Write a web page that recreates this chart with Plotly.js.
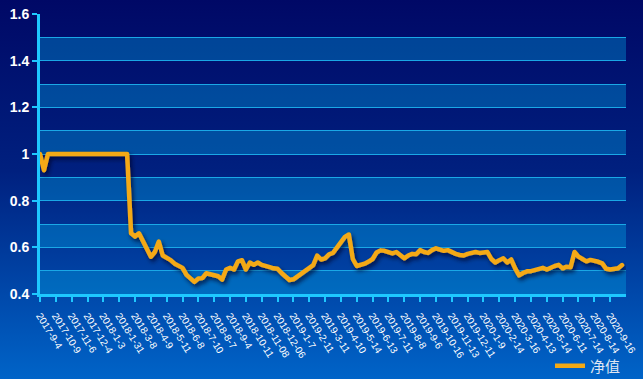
<!DOCTYPE html>
<html>
<head>
<meta charset="utf-8">
<script src="https://cdn.plot.ly/plotly-3.0.1.min.js"></script>
<style>
html,body{margin:0;padding:0;}
body{width:643px;height:379px;overflow:hidden;background:linear-gradient(to bottom,#000866 0%,#00207f 45%,#0064c8 100%);}
#chart{width:643px;height:379px;}
</style>
</head>
<body>
<div id="chart"></div>
<script>
// Tick labels (one per tick interval on the x axis)
var tickDates = ["2017-9-4","2017-10-9","2017-11-6","2017-12-4","2018-1-3","2018-1-31","2018-3-8","2018-4-9","2018-5-11","2018-6-8","2018-7-10","2018-8-7","2018-9-4","2018-10-11","2018-11-08","2018-12-06","2019-1-7","2019-2-11","2019-3-11","2019-4-10","2019-5-14","2019-6-13","2019-7-11","2019-8-8","2019-9-6","2019-10-16","2019-11-13","2019-12-11","2020-1-9","2020-2-14","2020-3-16","2020-4-13","2020-5-14","2020-6-11","2020-7-14","2020-8-14","2020-9-16"];
// Net value readings, sampled four per tick interval
var netValue = [
1.0,0.93,1.0,1.0,1.0,1.0,1.0,1.0,1.0,1.0,1.0,1.0,1.0,1.0,1.0,1.0,1.0,1.0,1.0,1.0,1.0,1.0,1.0,
0.66,0.646,0.66,0.625,0.585,0.56,0.58,0.625,0.565,0.556,0.545,0.53,0.52,0.512,0.482,0.465,0.452,0.466,0.468,
0.489,0.483,0.48,0.476,0.462,0.505,0.512,0.505,0.54,0.545,0.505,0.535,0.525,0.535,0.525,0.518,0.515,0.51,0.508,
0.49,0.472,0.46,0.463,0.475,0.484,0.496,0.513,0.524,0.565,0.548,0.553,0.57,0.576,0.6,0.62,0.645,0.655,0.55,0.52,
0.524,0.53,0.539,0.55,0.578,0.587,0.585,0.578,0.574,0.58,0.565,0.553,0.565,0.572,0.57,0.588,0.58,0.576,0.588,0.596,
0.59,0.585,0.588,0.578,0.572,0.567,0.565,0.572,0.575,0.58,0.576,0.58,0.58,0.55,0.535,0.545,0.553,0.535,0.548,0.51,
0.48,0.49,0.497,0.498,0.503,0.51,0.512,0.505,0.515,0.52,0.525,0.51,0.517,0.515,0.58,0.56,0.55,0.54,0.546,0.543,
0.538,0.531,0.508,0.505,0.51,0.51,0.524
];
var seriesName = "净值";
var samplesPerTick = 4;

var xs = netValue.map(function(v,i){return i/samplesPerTick;});
var tickvals = tickDates.map(function(d,k){return k;});

var bands = [];
for (var b = 0.4; b < 1.55; b += 0.2) {
  bands.push({type:'rect', xref:'paper', yref:'y', x0:0, x1:1, y0:b, y1:b+0.1,
    fillcolor:'rgba(0,170,230,0.36)', line:{width:0}, layer:'below'});
}

var axisColor = '#1ec8ff';
var data = [{
  x: xs, y: netValue, type:'scatter', mode:'lines', name: seriesName,
  line:{color:'#f4a914', width:4.5, shape:'linear'}, hoverinfo:'skip'
}];
var layout = {
  width:643, height:379,
  margin:{l:40, r:17, t:14, b:85, autoexpand:false},
  paper_bgcolor:'rgba(0,0,0,0)', plot_bgcolor:'rgba(0,0,0,0)',
  shapes: bands,
  showlegend:true,
  legend:{orientation:'h', x:1.0, xanchor:'right', y:-0.257, yanchor:'middle',
    font:{color:'#dfe6f2', size:15, family:'"Noto Sans CJK SC", sans-serif'}, bgcolor:'rgba(0,0,0,0)', itemwidth:30},
  xaxis:{range:[0,37], tickvals:tickvals, ticktext:tickDates, tickangle:58, automargin:false,
    ticklabelstandoff:4,
    tickfont:{color:'#ffffff', size:10, family:'"Liberation Sans", Arial, sans-serif'},
    ticks:'outside', ticklen:5, tickwidth:2, tickcolor:axisColor,
    showline:true, linecolor:axisColor, linewidth:3, showgrid:false, zeroline:false, fixedrange:true},
  yaxis:{range:[0.4,1.6], tick0:0.4, dtick:0.2, automargin:false,
    tickfont:{color:'#ffffff', size:14, family:'"Liberation Sans", Arial, sans-serif', weight:700},
    ticks:'outside', ticklen:5, tickwidth:2, tickcolor:axisColor,
    showline:true, linecolor:axisColor, linewidth:3,
    showgrid:true, gridcolor:'#1aa8e6', gridwidth:1,
    minor:{dtick:0.1, tick0:0.4, showgrid:true, gridcolor:'#1aa8e6', gridwidth:1},
    zeroline:false, fixedrange:true}
};
Plotly.newPlot('chart', data, layout, {displayModeBar:false, staticPlot:true}).then(function(){
  var svgNS = 'http://www.w3.org/2000/svg';
  var svg = document.querySelector('#chart .main-svg');
  var defs = document.createElementNS(svgNS,'defs');
  var f = document.createElementNS(svgNS,'filter');
  f.setAttribute('id','lineshadow');
  f.setAttribute('filterUnits','userSpaceOnUse');
  f.setAttribute('x','0'); f.setAttribute('y','0');
  f.setAttribute('width','643'); f.setAttribute('height','379');
  var ds = document.createElementNS(svgNS,'feDropShadow');
  ds.setAttribute('dx','2'); ds.setAttribute('dy','3'); ds.setAttribute('stdDeviation','2');
  ds.setAttribute('flood-color','#000020'); ds.setAttribute('flood-opacity','0.7');
  f.appendChild(ds); defs.appendChild(f); svg.insertBefore(defs, svg.firstChild);
  document.querySelectorAll('#chart .scatterlayer .js-line').forEach(function(p){
    p.setAttribute('filter','url(#lineshadow)');
    p.style.strokeLinejoin = 'round';
    p.style.strokeLinecap = 'round';
  });
});
</script>
</body>
</html>
